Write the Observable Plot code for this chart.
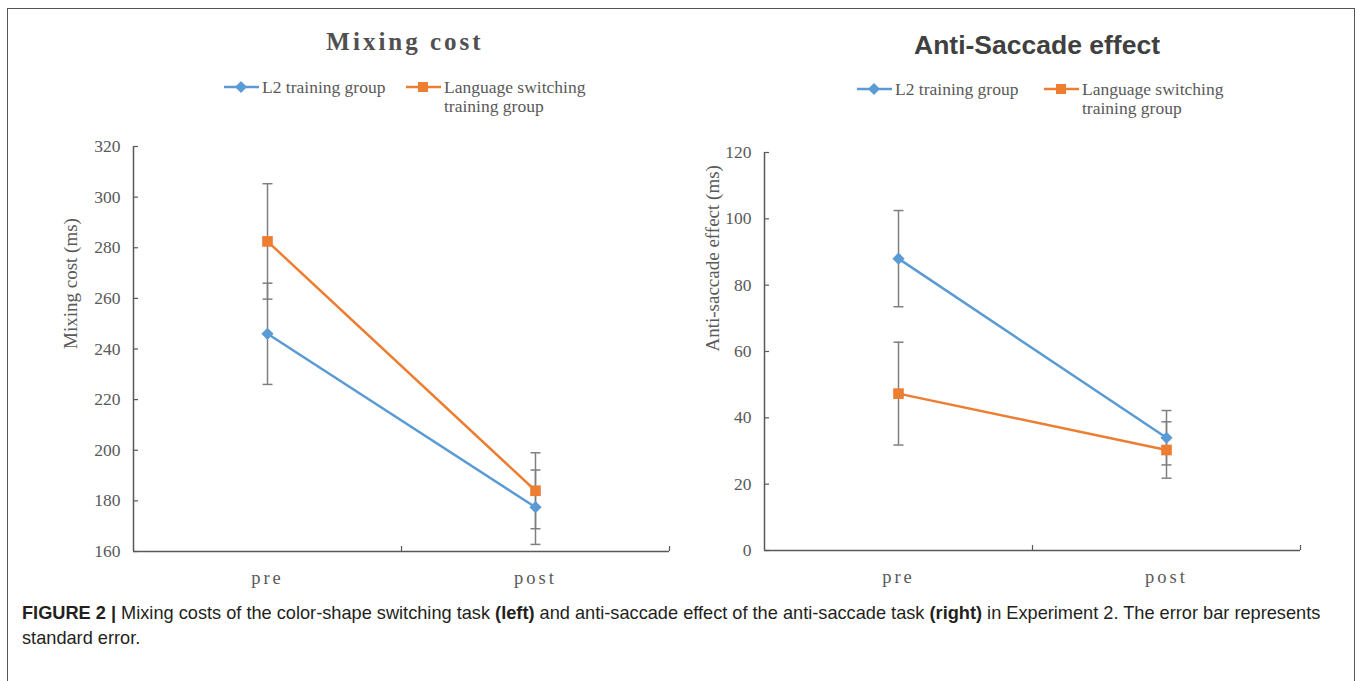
<!DOCTYPE html>
<html><head><meta charset="utf-8">
<script src="https://cdn.jsdelivr.net/npm/d3@7"></script>
<script src="https://cdn.jsdelivr.net/npm/@observablehq/plot@0.6"></script>
<style>
body{margin:0;background:#fff;}
#fig{position:relative;width:1357px;height:681px;overflow:hidden;background:#fff;}
#frame{position:absolute;left:7px;top:8px;width:1348px;height:720px;border:1.5px solid #555;box-sizing:border-box;}
.abs{position:absolute;white-space:nowrap;}
.chart{position:absolute;top:0;}
.chart text{font-family:"Liberation Serif","Times New Roman",serif !important;}
.title1{font-family:"Liberation Serif",serif;font-weight:bold;font-size:25px;letter-spacing:3px;color:#505050;transform:translate(-50%,-50%);}
.title2{font-family:"Liberation Sans",Arial,sans-serif;font-weight:bold;font-size:26.5px;color:#404040;transform:translate(-50%,-50%);}
.leg{font-family:"Liberation Serif",serif;font-size:17.5px;color:#595959;line-height:19px;}
#caption{left:22px;top:601px;font-family:"Liberation Sans",Arial,sans-serif;font-size:18.2px;line-height:25px;color:#231f20;}
</style></head>
<body>
<div id="fig"><div id="frame"></div></div>
<script>
// ---------------- data ----------------
const categories = ["pre", "post"];
const seriesNames = ["L2 training group", "Language switching training group"];
const legendLines = [["L2 training group"], ["Language switching", "training group"]];
const colors = ["#5B9BD5", "#ED7D31"];

// Mixing cost (ms)
const mixingL2 = [246, 177.5];
const mixingL2SE = [20, 14.7];
const mixingLS = [282.5, 184];
const mixingLSSE = [22.8, 15];
const mixingTicks = [160, 180, 200, 220, 240, 260, 280, 300, 320];

// Anti-saccade effect (ms)
const antiL2 = [88, 34];
const antiL2SE = [14.5, 8.2];
const antiLS = [47.3, 30.3];
const antiLSSE = [15.5, 8.5];
const antiTicks = [0, 20, 40, 60, 80, 100, 120];

const titles = ["Mixing cost", "Anti-Saccade effect"];
const yLabels = ["Mixing cost (ms)", "Anti-saccade effect (ms)"];
const captionBold = "FIGURE 2 |";
const captionText1 = " Mixing costs of the color-shape switching task ";
const captionText2 = " and anti-saccade effect of the anti-saccade task ";
const captionText3 = " in Experiment 2. The error bar represents";
const captionText4 = "standard error.";

// ---------------- chart builder ----------------
const axisColor = "#595959";
const serif = "Liberation Serif";
const capSymbol = {draw(ctx, size){ const r = Math.sqrt(size / Math.PI); ctx.moveTo(-r, 0); ctx.lineTo(r, 0); }};

function chart(o){
  const rows = [];
  seriesNames.forEach((s, i) => categories.forEach((c, j) => rows.push({series: s, x: j + 0.5, y: o.values[i][j], se: o.ses[i][j]})));
  const caps = rows.flatMap(d => [{x: d.x, y: d.y - d.se}, {x: d.x, y: d.y + d.se}]);
  const plotW = o.width - o.marginLeft - o.marginRight;
  const plotH = o.height - o.marginTop - o.marginBottom;
  const svg = Plot.plot({
    width: o.width, height: o.height,
    marginLeft: o.marginLeft, marginRight: o.marginRight, marginTop: o.marginTop, marginBottom: o.marginBottom,
    style: {background: "transparent", fontFamily: serif, color: axisColor, overflow: "visible"},
    x: {domain: [0, categories.length], axis: null},
    y: {domain: o.yDomain, axis: null},
    color: {domain: seriesNames, range: colors},
    marks: [
      Plot.ruleY([o.yDomain[0]], {stroke: axisColor, strokeWidth: 1.5}),
      Plot.ruleX([0], {stroke: axisColor, strokeWidth: 1.5}),
      Plot.tickY(o.yTicks, {y: d => d, insetRight: plotW - 5, stroke: axisColor, strokeWidth: 1.2}),
      Plot.tickX(d3.range(1, categories.length + 1), {x: d => d, insetTop: plotH - 5, stroke: axisColor, strokeWidth: 1.2}),
      Plot.text(o.yTicks, {x: 0, y: d => d, text: d => String(d), textAnchor: "end", dx: -13, fontSize: 17.5, fontFamily: serif, fill: axisColor}),
      Plot.text(categories, {x: (d, i) => i + 0.5, y: () => o.yDomain[0], text: d => d, dy: 27, fontSize: 18.5, fontFamily: serif, fill: axisColor}),
      Plot.text([o.yLabel], {frameAnchor: "left", text: d => d, rotate: -90, dx: o.labelDx, fontSize: 19, fontFamily: serif, fill: axisColor}),
      Plot.ruleX(rows, {x: "x", y1: d => d.y - d.se, y2: d => d.y + d.se, stroke: "#7f7f7f", strokeWidth: 1.5}),
      Plot.dot(caps, {x: "x", y: "y", symbol: capSymbol, r: 5, stroke: "#7f7f7f", strokeWidth: 1.5, fill: "none"}),
      Plot.line(rows, {x: "x", y: "y", z: "series", stroke: "series", strokeWidth: 2.5}),
      Plot.dot(rows.filter(d => d.series === seriesNames[1]), {x: "x", y: "y", symbol: "square", r: 6, fill: colors[1]}),
      Plot.dot(rows.filter(d => d.series === seriesNames[0]), {x: "x", y: "y", symbol: "diamond2", r: 5.5, fill: colors[0]})
    ]
  });
  d3.select(svg).selectAll("text").style("font-variant-numeric", "normal");
  d3.select(svg).selectAll("text").filter(function(){ return categories.includes(this.textContent); }).style("letter-spacing", "3px");
  svg.classList.add("chart");
  svg.style.left = o.left + "px";
  return svg;
}

const fig = document.getElementById("fig");
fig.appendChild(chart({
  left: 0, width: 690, height: 600, marginLeft: 133, marginRight: 21, marginTop: 146, marginBottom: 49,
  values: [mixingL2, mixingLS], ses: [mixingL2SE, mixingLSSE],
  yDomain: [mixingTicks[0], mixingTicks[mixingTicks.length - 1]], yTicks: mixingTicks, yLabel: yLabels[0], labelDx: -63
}));
fig.appendChild(chart({
  left: 690, width: 667, height: 600, marginLeft: 74, marginRight: 57, marginTop: 152, marginBottom: 50,
  values: [antiL2, antiLS], ses: [antiL2SE, antiLSSE],
  yDomain: [antiTicks[0], antiTicks[antiTicks.length - 1]], yTicks: antiTicks, yLabel: yLabels[1], labelDx: -52
}));

// titles
function addDiv(cls, x, y, html){ const d = document.createElement("div"); d.className = "abs " + cls; d.style.left = x + "px"; d.style.top = y + "px"; d.innerHTML = html; fig.appendChild(d); return d; }
addDiv("title1", 405, 42, titles[0]);
addDiv("title2", 1037, 45, titles[1]);

// legends
function legendItem(x, y, i){
  const sym = i === 0
    ? `<polygon points="17,1 23,7 17,13 11,7" fill="${colors[0]}"/>`
    : `<rect x="12" y="2" width="10" height="10" fill="${colors[1]}"/>`;
  const icon = `<svg width="35" height="14" style="position:absolute;left:0;top:2px"><line x1="0" y1="7" x2="35" y2="7" stroke="${colors[i]}" stroke-width="2.5"/>${sym}</svg>`;
  addDiv("leg", x, y, icon + `<div style="position:absolute;left:38px;top:0">${legendLines[i].join("<br>")}</div>`);
}
legendItem(224, 78, 0); legendItem(406, 78, 1);
legendItem(857, 80, 0); legendItem(1044, 80, 1);

// caption
const cap = addDiv("", 22, 601, `<b>${captionBold}</b>${captionText1}<b>(left)</b>${captionText2}<b>(right)</b>${captionText3}<br>${captionText4}`);
cap.id = "caption";
</script>
</body></html>
